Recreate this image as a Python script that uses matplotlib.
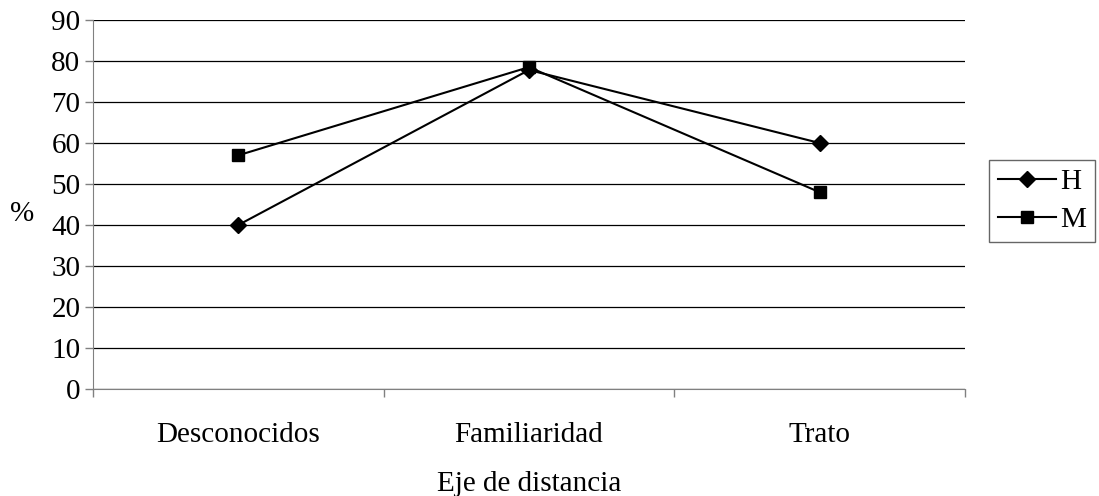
import matplotlib
matplotlib.use("Agg")
import matplotlib.pyplot as plt

# Data
categories = ["Desconocidos", "Familiaridad", "Trato"]
h_values = [40, 77.8, 60]
m_values = [57, 78.5, 48]
y_ticks = list(range(0, 100, 10))

plt.rcParams["font.family"] = ["Liberation Serif", "DejaVu Serif"]

fig = plt.figure(figsize=(10.99, 4.96), dpi=100)
ax = fig.add_axes([0.0846, 0.2157, 0.7934, 0.744])

x = [i + 0.5 for i in range(len(categories))]
ax.plot(x, h_values, color="black", lw=1.5, marker="D", markersize=8, label="H")
ax.plot(x, m_values, color="black", lw=1.5, marker="s", markersize=8, label="M")

ax.set_xlim(0, 3)
ax.set_ylim(0, 90)
ax.set_yticks(y_ticks)
ax.tick_params(axis="y", labelsize=21, length=6, width=1, color="#808080", direction="out", pad=3)
ax.set_xticks([0, 1, 2, 3])
ax.set_xticklabels([])
ax.set_xticks(x, minor=True)
ax.set_xticklabels(categories, minor=True, fontsize=21)
ax.tick_params(axis="x", which="major", length=6, width=1, color="#808080", direction="out")
ax.tick_params(axis="x", which="minor", length=0, pad=24)

ax.grid(axis="y", color="black", lw=0.9)
ax.set_axisbelow(True)
for side in ["top", "right"]:
    ax.spines[side].set_visible(False)
ax.spines["left"].set_color("#808080")
ax.spines["bottom"].set_color("#808080")

ax.set_xlabel("Eje de distancia", fontsize=21, labelpad=16)
ax.set_ylabel("%", fontsize=21, rotation=0, labelpad=12)
ax.yaxis.set_label_coords(-0.081, 0.44)

leg = ax.legend(loc="upper left", bbox_to_anchor=(0.9, 0.677), bbox_transform=fig.transFigure,
                borderaxespad=0, fontsize=21, frameon=True, fancybox=False,
                handlelength=2.0, handletextpad=0.15, labelspacing=0.4, borderpad=0.3)
leg.get_frame().set_edgecolor("#404040")
leg.get_frame().set_linewidth(1)

fig.savefig("out.png", dpi=100)
